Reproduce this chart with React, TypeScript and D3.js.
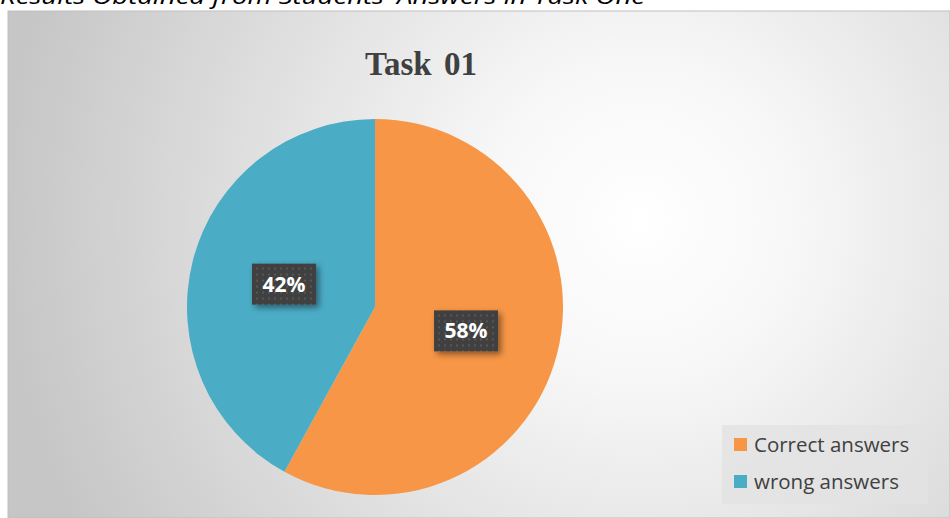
import React from "react";
import * as d3 from "d3";

const categories = ["Correct answers", "wrong answers"];
const values = [58, 42];
const colors = ["#F79646", "#4BACC6"];
const title = "Task 01";
const caption = "Results Obtained from Students' Answers in Task One";

export default function App() {
  const W = 950, H = 518;
  const cx = 375, cy = 307, R = 188;
  const pie = d3.pie<number>().sort(null).value((d) => d)(values);
  const arc = d3.arc<d3.PieArcDatum<number>>().innerRadius(0).outerRadius(R);
  const total = d3.sum(values);
  return (
    <svg width={W} height={H} style={{ position: "absolute", left: 0, top: 0 }}>
      <defs>
        <radialGradient id="bg" gradientUnits="userSpaceOnUse" cx={640} cy={220} r={640}>
          <stop offset="0" stopColor="#ffffff" />
          <stop offset="0.25" stopColor="#f7f7f7" />
          <stop offset="1" stopColor="#c6c6c6" />
        </radialGradient>
        <pattern id="dots" width="6" height="6" patternUnits="userSpaceOnUse">
          <rect width="6" height="6" fill="#404040" />
          <rect x="2" y="2" width="2" height="2" fill="#575757" />
        </pattern>
        <filter id="sh" x="-30%" y="-30%" width="170%" height="170%">
          <feDropShadow dx="3" dy="3" stdDeviation="3" floodColor="#000" floodOpacity="0.45" />
        </filter>
      </defs>
      <text x={0} y={4} fontFamily="'Open Sans', sans-serif" fontStyle="italic" fontSize={22}
        textLength={645} lengthAdjust="spacingAndGlyphs" fill="#000">{caption}</text>
      <rect x={8} y={11} width={W - 8} height={H - 11} fill="url(#bg)" stroke="#bfbfbf" strokeWidth={1} />
      <text x={421} y={75} textAnchor="middle" fontFamily="'Liberation Serif', serif" fontWeight="bold"
        fontSize={33} fill="#404040" wordSpacing={4}>{title}</text>
      <g transform={`translate(${cx},${cy})`}>
        {pie.map((p, i) => (
          <path key={i} d={arc(p) || ""} fill={colors[i]} />
        ))}
        {pie.map((p, i) => {
          const [x, y] = arc.centroid(p);
          const label = `${Math.round((p.data / total) * 100)}%`;
          return (
            <g key={"l" + i} transform={`translate(${x},${y})`}>
              <rect x={-32} y={-20} width={64} height={41} fill="url(#dots)" filter="url(#sh)" />
              <text x={0} y={8} textAnchor="middle" fontFamily="'Open Sans', sans-serif" fontWeight="bold"
                fontSize={21} fill="#ffffff">{label}</text>
            </g>
          );
        })}
      </g>
      <rect x={722} y={425} width={206} height={79} fill="#e2e2e2" opacity={0.8} />
      {categories.map((c, i) => (
        <g key={c} transform={`translate(734,${438 + i * 37})`}>
          <rect x={0} y={0} width={13} height={13} fill={colors[i]} />
          <text x={20} y={14} fontFamily="'Open Sans', sans-serif" fontSize={20.5} fill="#404040">{c}</text>
        </g>
      ))}
    </svg>
  );
}
